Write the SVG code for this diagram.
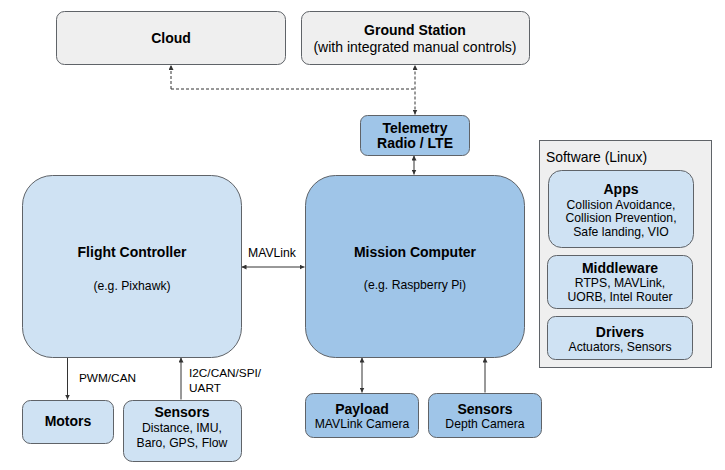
<svg xmlns="http://www.w3.org/2000/svg" width="725" height="470" viewBox="0 0 725 470">
<defs>
<style>
.box{stroke:#5f6368;stroke-width:1}
.gray{fill:#efefef}
.light{fill:#cfe2f3}
.dark{fill:#9fc5e8}
text{font-family:"Liberation Sans",Arial,sans-serif;fill:#000;text-anchor:middle}
.t{font-weight:bold;font-size:14px}
.s{font-size:12.2px}
.m{font-size:14px}
.l{font-size:11.8px;text-anchor:start}
.c{fill:none;stroke:#333;stroke-width:1}
.d{stroke-dasharray:3 2}
</style>
<marker id="ah" viewBox="0 0 6 6" refX="6" refY="3" markerWidth="5" markerHeight="5" markerUnits="userSpaceOnUse" orient="auto-start-reverse">
<path d="M0,0 L6,3 L0,6 z" fill="#333"/>
</marker>
</defs>
<rect width="725" height="470" fill="#fff"/>

<g id="connectors">
<path class="c d" d="M171,89 V65" marker-end="url(#ah)"/>
<path class="c d" d="M171,89 H415"/>
<path class="c d" d="M415,114.5 V65" marker-start="url(#ah)" marker-end="url(#ah)"/>
<path class="c" d="M414,155.5 V174.5" marker-start="url(#ah)" marker-end="url(#ah)"/>
<path class="c" d="M241.5,267 H304.5" marker-start="url(#ah)" marker-end="url(#ah)"/>
<path class="c" d="M67.5,357.5 V399.5" marker-end="url(#ah)"/>
<path class="c" d="M181,399.5 V357.5" marker-end="url(#ah)"/>
<path class="c" d="M362,357.5 V392.5" marker-start="url(#ah)" marker-end="url(#ah)"/>
<path class="c" d="M485,392.5 V357.5" marker-end="url(#ah)"/>
<text class="s" x="272" y="257">MAVLink</text>
<text class="l" x="79" y="382">PWM/CAN</text>
<text class="l" x="189" y="377">I2C/CAN/SPI/</text>
<text class="l" x="189" y="392">UART</text>
</g>

<g id="cloud">
<rect class="box gray" x="56.5" y="11.5" width="229" height="53" rx="8"/>
<text class="t" x="171" y="43">Cloud</text>
</g>

<g id="ground-station">
<rect class="box gray" x="301.5" y="11.5" width="228" height="53" rx="8"/>
<text class="t" x="415" y="35">Ground Station</text>
<text class="m" x="415" y="52">(with integrated manual controls)</text>
</g>

<g id="telemetry">
<rect class="box dark" x="360.5" y="115.5" width="109" height="40" rx="7"/>
<text class="t" x="415" y="133">Telemetry</text>
<text class="t" x="415" y="148">Radio / LTE</text>
</g>

<g id="flight-controller">
<rect class="box light" x="22.5" y="175.5" width="219" height="182" rx="30"/>
<text class="t" x="132" y="257">Flight Controller</text>
<text class="s" x="132" y="290">(e.g. Pixhawk)</text>
</g>

<g id="mission-computer">
<rect class="box dark" x="305.5" y="175.5" width="219" height="182" rx="30"/>
<text class="t" x="415" y="257">Mission Computer</text>
<text class="s" x="415" y="289">(e.g. Raspberry Pi)</text>
</g>

<g id="motors">
<rect class="box light" x="22.5" y="400.5" width="91" height="43" rx="8"/>
<text class="t" x="68" y="426">Motors</text>
</g>

<g id="fc-sensors">
<rect class="box light" x="123.5" y="400.5" width="118" height="61" rx="9"/>
<text class="t" x="182" y="417">Sensors</text>
<text class="s" x="182" y="432">Distance, IMU,</text>
<text class="s" x="182" y="447">Baro, GPS, Flow</text>
</g>

<g id="payload">
<rect class="box dark" x="305.5" y="393.5" width="113" height="44" rx="8"/>
<text class="t" x="362" y="414">Payload</text>
<text class="s" x="362" y="428">MAVLink Camera</text>
</g>

<g id="mc-sensors">
<rect class="box dark" x="428.5" y="393.5" width="113" height="44" rx="8"/>
<text class="t" x="485" y="414">Sensors</text>
<text class="s" x="485" y="428">Depth Camera</text>
</g>

<g id="software">
<rect class="box gray" x="539.5" y="140.5" width="172" height="227"/>
<text x="546" y="162" style="text-anchor:start;font-size:13.9px">Software (Linux)</text>
</g>

<g id="apps">
<rect class="box light" x="548.5" y="170.5" width="145" height="77" rx="13"/>
<text class="t" x="621" y="194">Apps</text>
<text class="s" x="621" y="209">Collision Avoidance,</text>
<text class="s" x="621" y="222">Collision Prevention,</text>
<text class="s" x="621" y="236">Safe landing, VIO</text>
</g>

<g id="middleware">
<rect class="box light" x="547.5" y="255.5" width="145" height="53" rx="9"/>
<text class="t" x="620" y="273">Middleware</text>
<text class="s" x="620" y="287">RTPS, MAVLink,</text>
<text class="s" x="620" y="301">UORB, Intel Router</text>
</g>

<g id="drivers">
<rect class="box light" x="547.5" y="316.5" width="145" height="43" rx="8"/>
<text class="t" x="620" y="337">Drivers</text>
<text class="s" x="620" y="351">Actuators, Sensors</text>
</g>
</svg>
